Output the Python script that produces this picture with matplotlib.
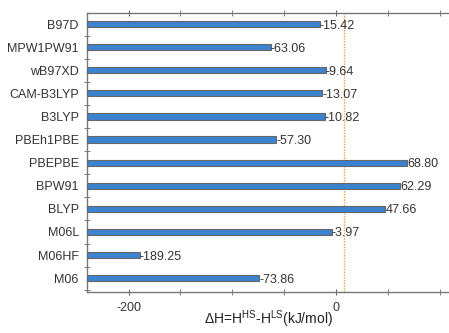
import matplotlib
matplotlib.use("Agg")
import matplotlib.pyplot as plt
from matplotlib.ticker import MultipleLocator, FixedLocator
import numpy as np

plt.rcParams['font.family'] = ['Liberation Sans', 'DejaVu Sans']
plt.rcParams['axes.unicode_minus'] = False
plt.rcParams['mathtext.fontset'] = 'custom'
plt.rcParams['mathtext.rm'] = 'Liberation Sans'
plt.rcParams['mathtext.it'] = 'Liberation Sans:italic'
plt.rcParams['mathtext.bf'] = 'Liberation Sans:bold'

methods = ["B97D", "MPW1PW91", "wB97XD", "CAM-B3LYP", "B3LYP", "PBEh1PBE",
           "PBEPBE", "BPW91", "BLYP", "M06L", "M06HF", "M06"]
values = [-15.42, -63.06, -9.64, -13.07, -10.82, -57.30,
          68.80, 62.29, 47.66, -3.97, -189.25, -73.86]
threshold = 8.0
xmin, xmax = -240, 110

fig = plt.figure(figsize=(4.49, 3.33), dpi=100)
ax = fig.add_axes([0.194, 0.123, 0.806 + 0.002, 0.838])

n = len(methods)
ypos = np.arange(n)[::-1]
ax.barh(ypos, [v - xmin for v in values], left=xmin, height=0.27,
        color="#3b82d0", edgecolor="#666666", linewidth=0.8, zorder=3)
for y, v in zip(ypos, values):
    ax.text(v, y, f"{v:.2f}", ha="left", va="center_baseline", fontsize=9,
            color="#333333", zorder=4)

ax.axvline(threshold, color="#f0a030", linestyle=(0, (1, 1)), linewidth=1.0, zorder=2)

ax.set_xlim(xmin, xmax)
ax.set_ylim(-0.6, n - 1 + 0.48)
ax.set_yticks(ypos)
ax.set_yticklabels(methods, fontsize=9, color="#333333")
ax.yaxis.set_minor_locator(FixedLocator(np.arange(-0.5, n, 1.0)))
ax.tick_params(axis="y", which="major", length=0, pad=6)
ax.tick_params(axis="y", which="minor", length=5, direction="inout", color="#666666")

ax.xaxis.set_major_locator(FixedLocator([-200, 0]))
ax.xaxis.set_minor_locator(MultipleLocator(50))
ax.tick_params(axis="x", which="both", top=True, bottom=True, direction="inout",
               length=5, color="#666666", labelsize=9, labelcolor="#333333", pad=5)

for s in ["left", "top", "bottom"]:
    ax.spines[s].set_color("#777777")
    ax.spines[s].set_linewidth(1.0)
ax.spines["right"].set_visible(False)

ax.set_xlabel(r"$\Delta$H=H$^{\rm HS}$-H$^{\rm LS}$(kJ/mol)", fontsize=10,
              color="#222222", va="center")
ax.xaxis.set_label_coords(0.5, -0.098)

fig.savefig("out.png", dpi=100)
